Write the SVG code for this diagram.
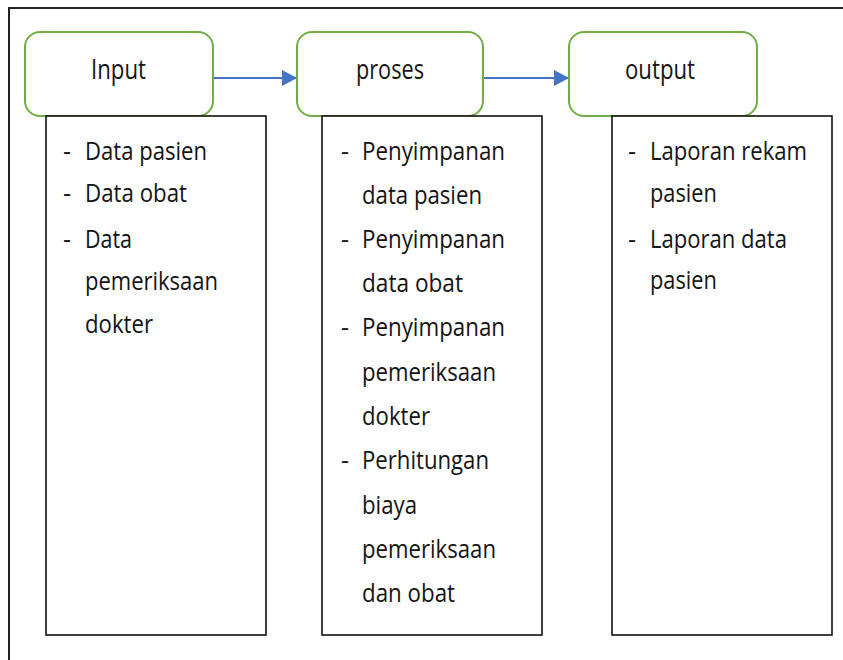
<svg xmlns="http://www.w3.org/2000/svg" width="843" height="660" viewBox="0 0 843 660">
<defs>
<style>
.frame{fill:none;stroke:#222;stroke-width:2}
.head{fill:#fff;stroke:#70AD47;stroke-width:2}
.body{fill:#fff;stroke:#111;stroke-width:1.6}
.t{font-family:"Open Sans","Noto Sans",sans-serif;fill:#141414}
.h{font-size:27px}
.c{font-size:25px}
.conn{stroke:#4472C4;stroke-width:2;fill:none}
</style>
<marker id="arr" markerWidth="16" markerHeight="16" refX="15" refY="8" orient="auto" markerUnits="userSpaceOnUse">
<path d="M0,0 L15,8 L0,16 Z" fill="#4472C4"/>
</marker>
</defs>
<rect width="843" height="660" fill="#fff"/>
<path class="frame" d="M9,700 L9,8 L843,8"/>
<g id="connectors">
<line class="conn" x1="213" y1="78" x2="297" y2="78" marker-end="url(#arr)"/>
<line class="conn" x1="484" y1="78" x2="569" y2="78" marker-end="url(#arr)"/>
</g>
<g id="input">
<rect class="head" x="25" y="32" width="188" height="84" rx="15"/>
<text class="t h" x="118.5" y="79" text-anchor="middle" textLength="55" lengthAdjust="spacingAndGlyphs">Input</text>
<rect class="body" x="46" y="116" width="220" height="519"/>
<g class="t c">
<text x="63" y="160">-</text>
<text x="85" y="160" textLength="122" lengthAdjust="spacingAndGlyphs">Data pasien</text>
<text x="63" y="202">-</text>
<text x="85" y="202" textLength="102" lengthAdjust="spacingAndGlyphs">Data obat</text>
<text x="63" y="248">-</text>
<text x="85" y="248" textLength="47" lengthAdjust="spacingAndGlyphs">Data</text>
<text x="85" y="290" textLength="133" lengthAdjust="spacingAndGlyphs">pemeriksaan</text>
<text x="85" y="333" textLength="68" lengthAdjust="spacingAndGlyphs">dokter</text>
</g>
</g>
<g id="proses">
<rect class="head" x="297" y="32" width="186" height="84" rx="15"/>
<text class="t h" x="390" y="79" text-anchor="middle" textLength="68" lengthAdjust="spacingAndGlyphs">proses</text>
<rect class="body" x="322" y="116" width="220" height="519"/>
<g class="t c">
<text x="341" y="160">-</text>
<text x="362" y="160" textLength="143" lengthAdjust="spacingAndGlyphs">Penyimpanan</text>
<text x="362" y="204" textLength="120" lengthAdjust="spacingAndGlyphs">data pasien</text>
<text x="341" y="248">-</text>
<text x="362" y="248" textLength="143" lengthAdjust="spacingAndGlyphs">Penyimpanan</text>
<text x="362" y="292" textLength="101" lengthAdjust="spacingAndGlyphs">data obat</text>
<text x="341" y="336">-</text>
<text x="362" y="336" textLength="143" lengthAdjust="spacingAndGlyphs">Penyimpanan</text>
<text x="362" y="381" textLength="134" lengthAdjust="spacingAndGlyphs">pemeriksaan</text>
<text x="362" y="425" textLength="68" lengthAdjust="spacingAndGlyphs">dokter</text>
<text x="341" y="469">-</text>
<text x="362" y="469" textLength="127" lengthAdjust="spacingAndGlyphs">Perhitungan</text>
<text x="362" y="514" textLength="55" lengthAdjust="spacingAndGlyphs">biaya</text>
<text x="362" y="558" textLength="134" lengthAdjust="spacingAndGlyphs">pemeriksaan</text>
<text x="362" y="602" textLength="93" lengthAdjust="spacingAndGlyphs">dan obat</text>
</g>
</g>
<g id="output">
<rect class="head" x="569" y="32" width="188" height="84" rx="15"/>
<text class="t h" x="660" y="79" text-anchor="middle" textLength="70" lengthAdjust="spacingAndGlyphs">output</text>
<rect class="body" x="612" y="116" width="220" height="519"/>
<g class="t c">
<text x="628" y="160">-</text>
<text x="650" y="160" textLength="157" lengthAdjust="spacingAndGlyphs">Laporan rekam</text>
<text x="650" y="202" textLength="67" lengthAdjust="spacingAndGlyphs">pasien</text>
<text x="628" y="248">-</text>
<text x="650" y="248" textLength="137" lengthAdjust="spacingAndGlyphs">Laporan data</text>
<text x="650" y="289" textLength="67" lengthAdjust="spacingAndGlyphs">pasien</text>
</g>
</g>
</svg>
